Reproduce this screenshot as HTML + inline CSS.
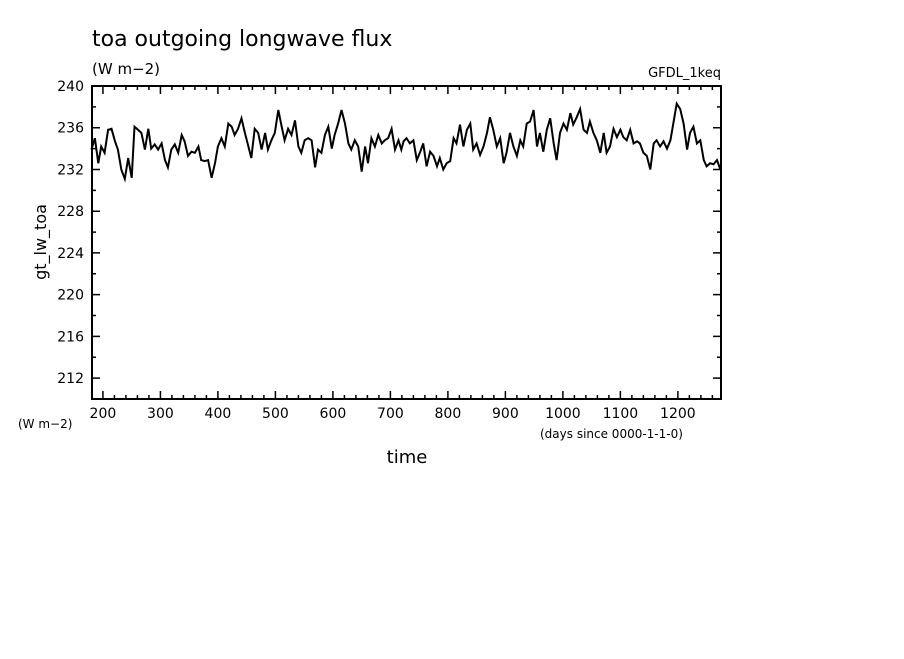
<!DOCTYPE html>
<html><head><meta charset="utf-8"><style>
body{margin:0;background:#fff;width:904px;height:654px;overflow:hidden;font-family:"Liberation Sans",sans-serif}
svg text{font-family:"DejaVu Sans","Liberation Sans",sans-serif;fill:#000}
</style></head><body>
<svg width="904" height="654">
<text x="92" y="46" font-size="22">toa outgoing longwave flux</text>
<text x="92" y="74" font-size="15">(W m−2)</text>
<text x="721" y="77" font-size="13" text-anchor="end">GFDL_1keq</text>
<text transform="translate(46,242) rotate(-90)" font-size="16" text-anchor="middle">gt_lw_toa</text>
<text x="18" y="428" font-size="12">(W m−2)</text>
<text x="540" y="438" font-size="12">(days since 0000-1-1-0)</text>
<text x="407" y="463" font-size="18" text-anchor="middle">time</text>
<g id="ax"></g>
<rect x="92" y="86" width="629" height="313" fill="none" stroke="#000" stroke-width="2"/>
</svg>
<script>
const days1=[180,186,192,197,203,209,215,221,226,232,238,244,250,255,261,267,273,279,284,290,296,302,308,313,319,325,331,337,342,348,354,360,366,371,377,383,389,395,400,406,412,418,424,429,435,441,447,453,458,464,470,476,482,487,493,499,505,511,516,522,528,534,540,545,551,557,563,569,574,580,586,592,598,603,609,615,621,627,632,638,644,650,656,661,667,673,679,685,690,696,702,708,714,719];
const vals1=[233.9,235.0,232.6,234.2,233.6,235.8,235.9,234.7,233.9,232.0,231.1,233.1,231.2,236.1,235.8,235.5,233.9,235.9,234.0,234.4,233.9,234.5,232.9,232.2,233.9,234.4,233.6,235.3,234.7,233.3,233.7,233.6,234.2,232.9,232.8,232.9,231.2,232.6,234.2,235.0,234.2,236.4,236.1,235.3,235.9,236.9,235.5,234.2,233.1,235.9,235.5,233.9,235.5,233.9,234.8,235.5,237.7,236.1,234.8,235.9,235.3,236.7,234.2,233.6,234.8,235.0,234.8,232.2,233.9,233.6,235.3,236.1,234.0,235.3,236.4,237.7,236.4,234.5,233.9,234.8,234.2,231.8,234.2,232.6,235.0,234.2,235.3,234.5,234.8,235.0,235.9,233.9,234.8,233.9];
const days2=[723,728,734,740,746,752,757,763,769,775,781,786,792,798,804,810,815,821,827,833,839,844,850,856,862,868,873,879,885,891,897,902,908,914,920,926,931,937,943,949,955,960,966,972,978,984,989,995,1001,1007,1013,1018,1024,1030,1036,1042,1047,1053,1059,1065,1071,1076,1082,1088,1094,1100,1105,1111,1117,1123,1129,1134,1140,1146,1152,1158,1163,1169,1175,1181,1187,1192,1198,1204,1210,1216,1221,1227,1233,1239,1245,1250,1256,1262,1268,1274];
const vals2=[234.7,235.0,234.5,234.8,232.9,233.7,234.5,232.3,233.7,233.3,232.3,233.1,232.0,232.6,232.8,235.0,234.5,236.3,234.2,235.8,236.4,233.9,234.5,233.4,234.2,235.5,237.0,235.8,234.2,235.0,232.6,233.6,235.5,234.2,233.3,234.8,234.2,236.4,236.6,237.7,234.2,235.5,233.7,235.8,236.9,234.5,232.9,235.5,236.4,235.8,237.4,236.3,237.0,237.8,235.8,235.5,236.6,235.5,234.8,233.6,235.5,233.6,234.2,235.9,235.1,235.8,235.1,234.8,235.8,234.5,234.7,234.5,233.6,233.3,232.0,234.5,234.8,234.2,234.7,234.0,234.8,236.4,238.3,237.8,236.4,233.9,235.5,236.1,234.5,234.8,232.9,232.3,232.6,232.5,232.9,232.0];
const xTicks=[200,300,400,500,600,700,800,900,1000,1100,1200];
const yTicks=[212,216,220,224,228,232,236,240];
const X0=92,X1=721,Y0=399,Y1=86,DMIN=181,DMAX=1275,VMIN=210,VMAX=240;
const sx=d=>X0+(d-DMIN)/(DMAX-DMIN)*(X1-X0);
const sy=v=>Y0-(v-VMIN)/(VMAX-VMIN)*(Y0-Y1);
const NS='http://www.w3.org/2000/svg';
const g=document.getElementById('ax');
function mk(t,a){const e=document.createElementNS(NS,t);for(const k in a)e.setAttribute(k,a[k]);g.appendChild(e);return e;}
let p='';
for(let d=200;d<=1260;d+=20){const x=sx(d),L=d%100===0?8:4;p+=`M${x},${Y0}v${-L}M${x},${Y1}v${L}`;}
for(let v=212;v<=238;v+=2){const y=sy(v),L=v%4===0?8:4;p+=`M${X0},${y}h${L}M${X1},${y}h${-L}`;}
const tk=mk('path',{d:p,stroke:'#000','stroke-width':1.5,fill:'none'});


xTicks.forEach(d=>{const t=mk('text',{x:sx(d),y:418,'font-size':14,'text-anchor':'middle'});t.textContent=d;

});
yTicks.forEach(v=>{const t=mk('text',{x:84,y:sy(v)+5,'font-size':14,'text-anchor':'end'});t.textContent=v;

});
const days=days1.concat(days2),vals=vals1.concat(vals2);
const n=Math.min(days.length,vals.length);
let pts=[];for(let i=0;i<n;i++)pts.push(sx(days[i]).toFixed(1)+','+sy(vals[i]).toFixed(1));
const ln=mk('polyline',{points:pts.join(' '),fill:'none',stroke:'#000','stroke-width':2,'stroke-linejoin':'miter'});


</script>
</body></html>
